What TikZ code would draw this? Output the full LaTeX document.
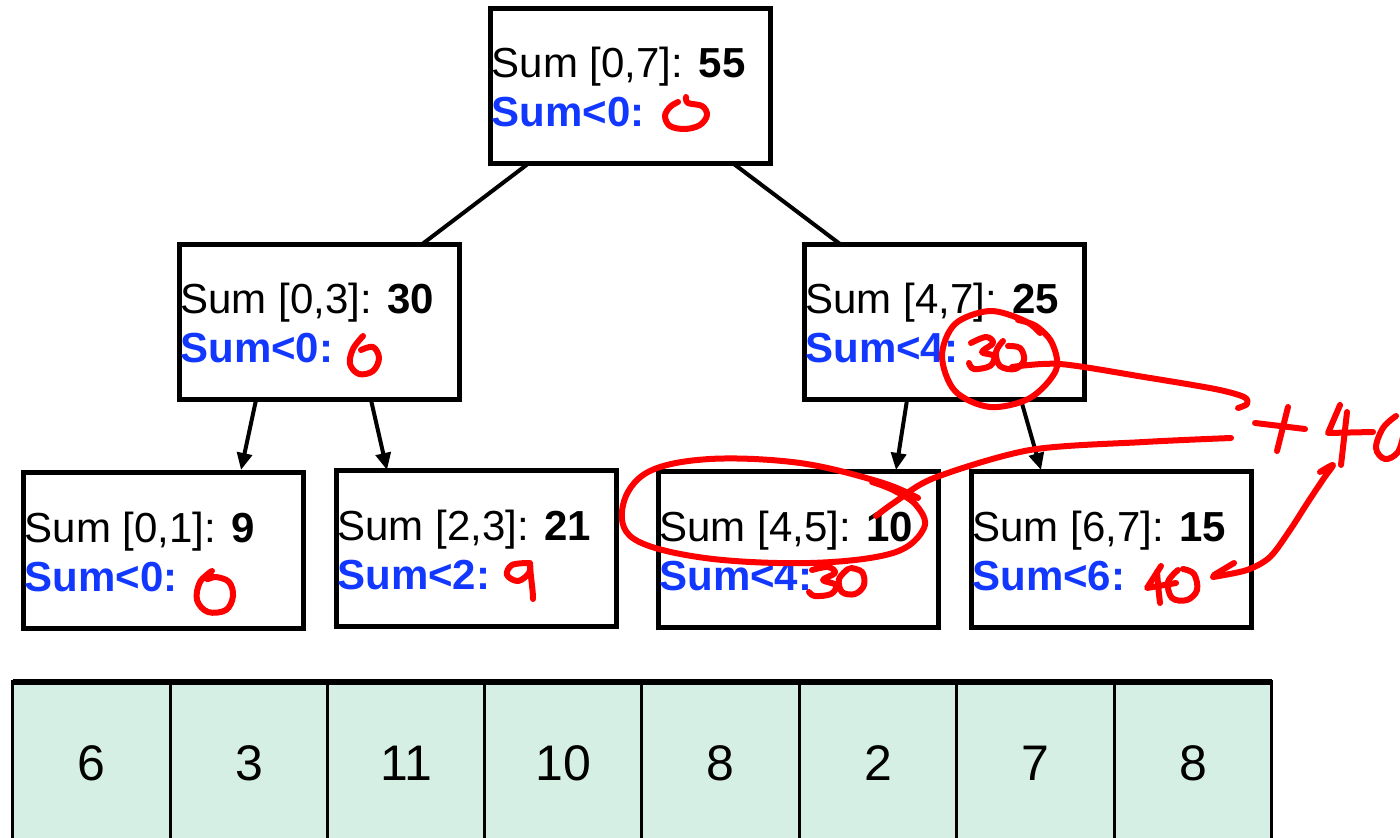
\documentclass[tikz,border=0pt]{standalone}
\usepackage{fontspec}
\setmainfont{Liberation Sans}
\usetikzlibrary{calc,arrows.meta}
\definecolor{sumblue}{RGB}{18,56,255}
\definecolor{cellfill}{RGB}{213,239,228}
\definecolor{ink}{RGB}{255,0,0}
\begin{document}
\begin{tikzpicture}[x=0.5pt,y=-0.5pt,
  box/.style={draw,line width=2.5pt,minimum width=140pt,minimum height=77.5pt,inner sep=0pt,outer sep=0pt},
  hi/.style={anchor=base west,inner sep=0pt,font=\fontsize{21}{25}\selectfont},
  lo/.style={anchor=base west,inner sep=0pt,text=sumblue,font=\fontsize{21}{25}\selectfont\bfseries},
  link/.style={line width=2pt},
  arr/.style={link,-{Triangle[length=8.5pt,width=7.5pt]}},
  cell/.style={draw,fill=cellfill,line width=1.6pt,minimum width=78.7pt,minimum height=81pt,inner sep=0pt,outer sep=0pt,font=\fontsize{25}{30}\selectfont},
  hand/.style={draw=ink,line width=3pt,line cap=round,line join=round}
]
\clip (0,0) rectangle (1400,838);
\fill[white] (0,0) rectangle (1400,838);

% tree of range sums
\node[box] (root) at (630.5,86) {};
\node[box] (l1)   at (319,322.5) {};
\node[box] (r1)   at (944,322.5) {};
\node[box] (a)    at (163.5,550.5) {};
\node[box] (b)    at (476,548.5) {};
\node[box] (c)    at (798,549.5) {};
\node[box] (d)    at (1111,549.5) {};

\foreach \n/\r/\v/\p in {root/{0,7}/55/0, l1/{0,3}/30/0, r1/{4,7}/25/4, a/{0,1}/9/0, b/{2,3}/21/2, c/{4,5}/10/4, d/{6,7}/15/6}{
  \node[hi] (\n-top) at ($(\n.north west)+(1,69)$) {Sum [\r]: \textbf{\v}};
  \node[lo] (\n-low) at ($(\n.north west)+(1,118)$) {Sum<\p:};
}

\draw[link] (root) -- (l1);
\draw[link] (root) -- (r1);
\draw[arr] ($(l1.south)+(-63,0)$) -- ($(a.north)+(77.5,-3)$);
\draw[arr] ($(l1.south)+(52,0)$)  -- ($(b.north)+(-89,-1)$);
\draw[arr] ($(r1.south)+(-37,0)$) -- ($(c.north)+(98,-2)$);
\draw[arr] ($(r1.south)+(77,0)$)  -- ($(d.north)+(-70,-2)$);

% the array
\foreach \i/\x/\v in {1/91.5/6, 2/249/3, 3/406.5/11, 4/563.5/10, 5/720.5/8, 6/878/2, 7/1035.5/7, 8/1193/8}{
  \node[cell] (cell\i) at (\x,763) {\v};
}
\draw[line width=2.6pt] (cell1.north west) -- (cell8.north east);

% handwritten notes
% root: 0
\draw[hand] plot[smooth,tension=0.6] coordinates {(686,97)(688,103)(702,106)(707,115)(700,125)(685,129)(670,126)(665,116)(670,107)(678,102)};
% [0,3]: 0
\draw[hand] plot[smooth,tension=0.6] coordinates {(363,336)(353,349)(350,364)(359,374)(373,371)(379,358)(373,347)(361,350)};
% [0,1]: 0
\draw[hand] plot[smooth,tension=0.6] coordinates {(212,571)(200,582)(197,600)(208,612)(226,610)(233,596)(229,582)(216,577)(207,579)(210,572)};
% [2,3]: 9
\draw[hand] plot[smooth,tension=0.6] coordinates {(529,563)(512,565)(507,575)(518,581)(529,573)(530,563)};
\draw[hand] (530,566) .. controls (531,580) and (533,590) .. (533,599);
% [4,7]: 30
\draw[hand] plot[smooth,tension=0.6] coordinates {(971,343)(986,337)(993,343)(982,352)(994,356)(990,366)(974,369)(969,363)};
\draw[hand] plot[smooth,tension=0.6] coordinates {(1003,341)(996,352)(1000,366)(1015,369)(1024,360)(1020,348)(1008,346)};
% circle round it
\draw[hand] plot[smooth,tension=0.55] coordinates {(1040,333)(1025,321)(990,311)(955,324)(942,356)(955,391)(990,407)(1030,398)(1056,370)(1052,343)(1036,326)(1018,320)};
% line to the +40
\draw[hand] plot[smooth,tension=0.5] coordinates {(1012,367)(1060,364)(1144,377)(1215,389)(1244,397)(1247,404)(1238,408)};
% +40
\draw[hand] (1255,423) -- (1305,429);
\draw[hand] (1288,407) -- (1277,451);
\draw[hand] (1340,405) -- (1328,433) -- (1373,432);
\draw[hand] (1347,412) -- (1341,465);
\draw[hand] plot[smooth,tension=0.6] coordinates {(1396,416)(1383,428)(1376,448)(1385,459)(1398,452)(1404,432)};
% lower line and loop round [4,5]
\draw[hand] plot[smooth,tension=0.5] coordinates {(1231,438)(1144,442)(1030,450)(934,478)(895,502)(876,516)};
\draw[hand] plot[smooth,tension=0.6] coordinates {(918,498)(880,482)(800,463)(710,459)(648,472)(623,505)(634,539)(705,558)(810,563)(893,553)(924,528)(916,505)(893,490)(872,482)};
% [4,5]: 30
\draw[hand] plot[smooth,tension=0.6] coordinates {(812,570)(828,567)(835,573)(823,580)(836,585)(831,594)(815,596)(809,592)};
\draw[hand] plot[smooth,tension=0.6] coordinates {(848,569)(839,579)(842,592)(855,594)(864,585)(862,572)(851,568)};
% [6,7]: 40
\draw[hand] (1161,566) -- (1147,588) -- (1176,583);
\draw[hand] (1157,572) .. controls (1158,585) and (1159,595) .. (1160,603);
\draw[hand] plot[smooth,tension=0.6] coordinates {(1178,570)(1168,582)(1172,598)(1187,600)(1197,590)(1194,574)(1183,569)};
% arrow from the 40 up to the +40
\draw[hand] plot[smooth,tension=0.5] coordinates {(1213,577)(1247,570)(1270,557)(1290,530)(1308,502)(1324,478)(1333,465)(1320,472)};
\draw[hand] (1214,575) -- (1234,563);
\end{tikzpicture}
\end{document}
